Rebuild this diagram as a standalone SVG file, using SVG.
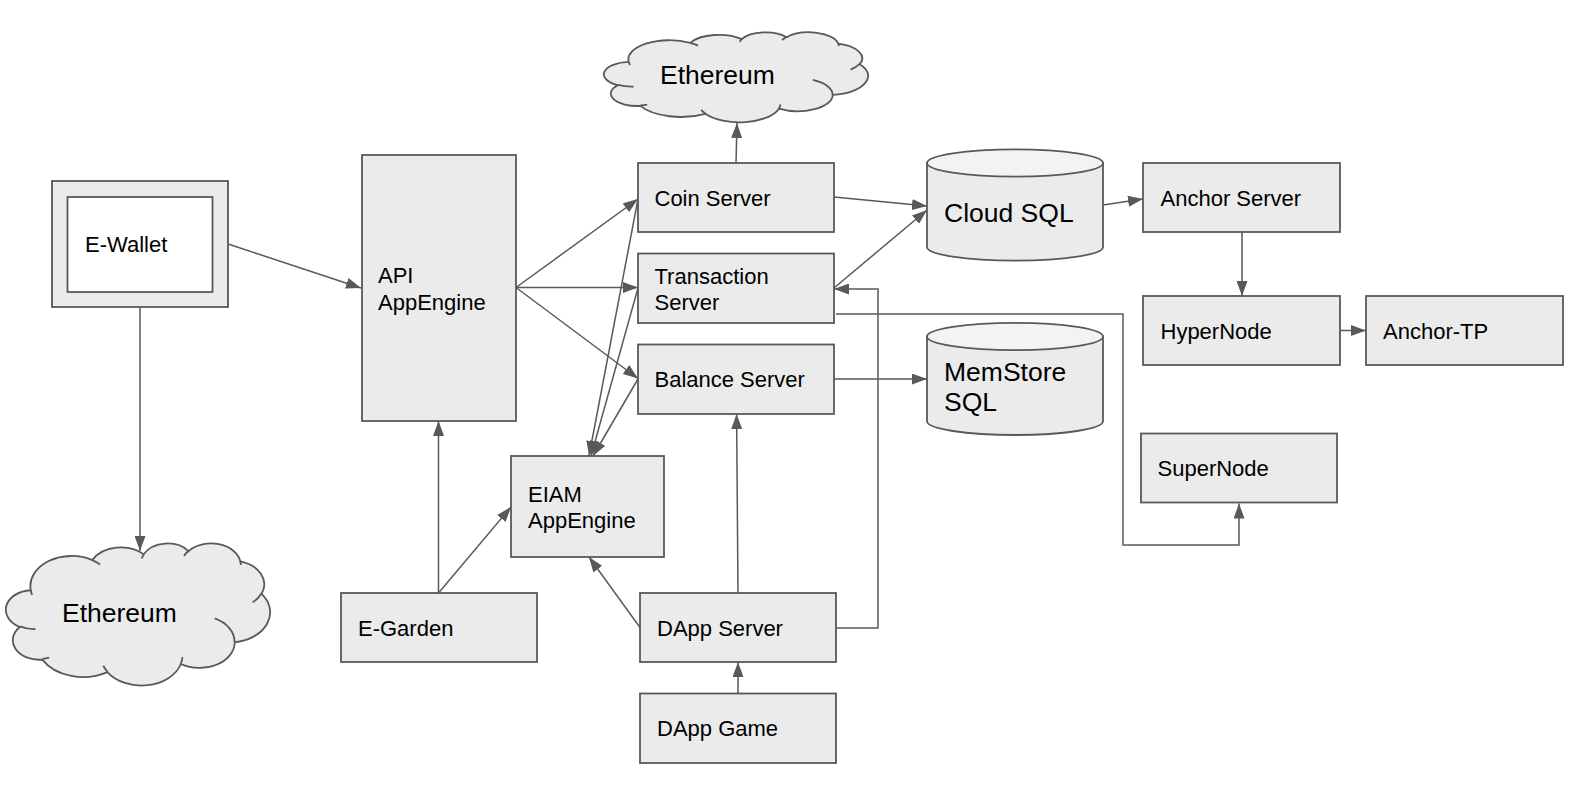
<svg xmlns="http://www.w3.org/2000/svg" width="1580" height="788" viewBox="0 0 1580 788">
<defs>
<style>
.n{fill:#ebebeb;stroke:#595959;stroke-width:1.8}
.t{font-family:"Liberation Sans",Arial,sans-serif;font-size:22px;fill:#000}
.tb{font-family:"Liberation Sans",Arial,sans-serif;font-size:26.5px;fill:#000}
.c{fill:none;stroke:#595959;stroke-width:1.5;marker-end:url(#ah)}
.cl{fill:#ebebeb;stroke:#595959;stroke-width:1.8}
.ci{fill:none;stroke:#595959;stroke-width:1.8}
.top{fill:#f3f3f3;stroke:#595959;stroke-width:1.8}
</style>
<marker id="ah" markerUnits="userSpaceOnUse" markerWidth="15" markerHeight="11" refX="15" refY="5.5" orient="auto">
<path d="M0,0 L15,5.5 L0,11 Z" fill="#595959"/>
</marker>
<path id="cloudOut" vector-effect="non-scaling-stroke" d="M90.3,332.6 A156.3,212.7 0 0 1 324.2,120.5 A123.5,168.2 0 0 1 519.9,79.5 A101.0,137.6 0 0 1 690.6,57.5 A112.4,152.7 0 0 1 887.1,129.1 A123.5,168.4 0 0 1 968.1,357.9 A156.8,213.4 0 0 1 865.9,699.2 A133.9,182.1 0 0 1 661.1,852.2 A156.3,213.3 0 0 1 381.6,908.9 A178.7,244.1 0 0 1 134.4,821.1 A100.9,137.0 0 0 1 49.0,591.5 A100.6,137.6 0 0 1 90.3,332.6 Z"/>
<path id="cloudIn" vector-effect="non-scaling-stroke" d="M108.6,606.0 A100.6,137.6 0 0 1 50.0,587.5 M160.4,807.9 A100.9,137.0 0 0 1 134.7,816.7 M381.4,904.9 A156.3,213.3 0 0 1 366.0,864.6 M667.3,804.4 A156.3,213.3 0 0 1 661.1,848.6 M790.0,531.3 A133.9,182.1 0 0 1 865.3,696.5 M967.5,355.4 A123.5,168.4 0 0 1 934.0,417.4 M887.1,125.6 A112.4,152.7 0 0 1 888.9,154.9 M673.1,91.5 A112.4,152.7 0 0 1 690.3,54.2 M512.5,109.3 A101.0,137.6 0 0 1 520.8,77.1 M324.1,120.2 A156.3,212.7 0 0 1 354.1,151.4 M95.5,365.5 A156.3,212.7 0 0 1 90.3,332.6"/>
</defs>
<rect width="1580" height="788" fill="#ffffff"/>

<g id="connectors">
<path class="c" d="M228,244 L361,288"/>
<path class="c" d="M140,307 L140,551"/>
<path class="c" d="M516,287.5 L638,199"/>
<path class="c" d="M516,287.5 L638,287.5"/>
<path class="c" d="M516,287.5 L638,378.5"/>
<path class="c" d="M638,199 L589,456"/>
<path class="c" d="M638,288 L591,456"/>
<path class="c" d="M638,379 L593,456"/>
<path class="c" d="M736,163 L737,123"/>
<path class="c" d="M834,197 L927,206"/>
<path class="c" d="M834,288 L927,210"/>
<path class="c" d="M836,314 L1123,314 L1123,545 L1239,545 L1239,503.5"/>
<path class="c" d="M834,379 L927,379"/>
<path class="c" d="M1103,205 L1143,199"/>
<path class="c" d="M1242,232 L1242,296"/>
<path class="c" d="M1340,330.5 L1366,330.5"/>
<path class="c" d="M438.5,593 L438.5,421"/>
<path class="c" d="M438.5,593 L511,507"/>
<path class="c" d="M640,627.5 L589,557"/>
<path class="c" d="M738,593 L736.6,414"/>
<path class="c" d="M738,693.5 L738,662"/>
<path class="c" d="M836,628 L878,628 L878,289 L834,289"/>
</g>

<g id="ethereum-top">
<g transform="translate(605,32) scale(0.263,0.09)">
<use href="#cloudOut" class="cl"/>
<use href="#cloudIn" class="ci"/>
</g>
<text class="tb" x="660" y="84">Ethereum</text>
</g>

<g id="ethereum-bottom">
<g transform="translate(7,543) scale(0.263,0.142)">
<use href="#cloudOut" class="cl"/>
<use href="#cloudIn" class="ci"/>
</g>
<text class="tb" x="62" y="621.5">Ethereum</text>
</g>

<g id="e-wallet">
<rect class="n" x="52" y="181" width="176" height="126"/>
<rect x="67.5" y="197" width="145" height="95" fill="#ffffff" stroke="#595959" stroke-width="1.8"/>
<text class="t" x="85" y="251.5">E-Wallet</text>
</g>

<g id="api-appengine">
<rect class="n" x="362" y="155" width="154" height="266"/>
<text class="t" x="378" y="283">API</text>
<text class="t" x="378" y="310">AppEngine</text>
</g>

<g id="coin-server">
<rect class="n" x="638" y="163" width="196" height="69"/>
<text class="t" x="654.5" y="206">Coin Server</text>
</g>

<g id="transaction-server">
<rect class="n" x="638" y="253.5" width="196" height="69.5"/>
<text class="t" x="654.5" y="283.5">Transaction</text>
<text class="t" x="654.5" y="310">Server</text>
</g>

<g id="balance-server">
<rect class="n" x="638" y="344.5" width="196" height="69.5"/>
<text class="t" x="654.5" y="387">Balance Server</text>
</g>

<g id="eiam-appengine">
<rect class="n" x="511" y="456" width="153" height="101"/>
<text class="t" x="528" y="501.5">EIAM</text>
<text class="t" x="528" y="528">AppEngine</text>
</g>

<g id="e-garden">
<rect class="n" x="341" y="593" width="196" height="69"/>
<text class="t" x="358" y="635.5">E-Garden</text>
</g>

<g id="dapp-server">
<rect class="n" x="640" y="593" width="196" height="69"/>
<text class="t" x="657" y="635.5">DApp Server</text>
</g>

<g id="dapp-game">
<rect class="n" x="640" y="693.5" width="196" height="69.5"/>
<text class="t" x="657" y="736">DApp Game</text>
</g>

<g id="cloud-sql">
<path class="n" d="M927,163 L927,247 A88,13.7 0 0 0 1103,247 L1103,163 Z"/>
<ellipse class="top" cx="1015" cy="163" rx="88" ry="13.7"/>
<text class="tb" x="944" y="221.5">Cloud SQL</text>
</g>

<g id="memstore-sql">
<path class="n" d="M927,336.5 L927,421.3 A88,13.7 0 0 0 1103,421.3 L1103,336.5 Z"/>
<ellipse class="top" cx="1015" cy="336.5" rx="88" ry="13.7"/>
<text class="tb" x="944" y="380.5">MemStore</text>
<text class="tb" x="944" y="410.5">SQL</text>
</g>

<g id="anchor-server">
<rect class="n" x="1143" y="163" width="197" height="69"/>
<text class="t" x="1160.5" y="206">Anchor Server</text>
</g>

<g id="hypernode">
<rect class="n" x="1143" y="296" width="197" height="69"/>
<text class="t" x="1160.5" y="339">HyperNode</text>
</g>

<g id="anchor-tp">
<rect class="n" x="1366" y="296" width="197" height="69"/>
<text class="t" x="1383" y="339">Anchor-TP</text>
</g>

<g id="supernode">
<rect class="n" x="1141" y="433.5" width="196" height="69"/>
<text class="t" x="1157.5" y="476">SuperNode</text>
</g>
</svg>
